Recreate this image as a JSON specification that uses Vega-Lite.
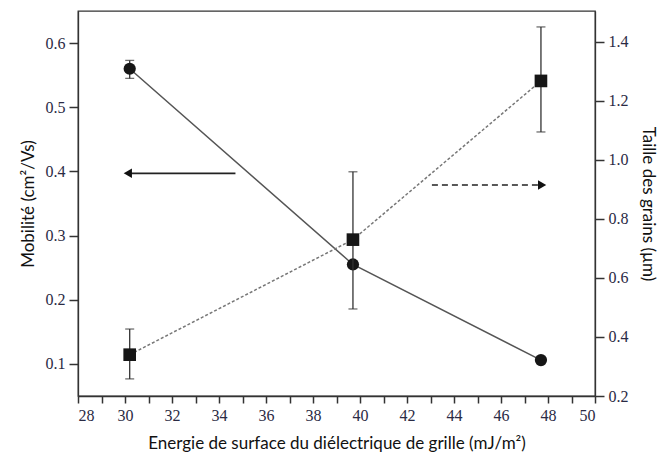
{
  "$schema": "https://vega.github.io/schema/vega-lite/v6.json",
  "description": "Mobilité et taille des grains en fonction de l'énergie de surface du diélectrique de grille.",
  "width": 517,
  "height": 385,
  "autosize": {"type": "none"},
  "padding": {"left": 78, "top": 11, "right": 67, "bottom": 62},
  "background": "white",
  "config": {
    "view": {"stroke": "#333", "strokeWidth": 1.3}
  },
  "datasets": {
    "mobilite": [
      {"energie": 30.2, "mob": 0.56, "lo": 0.545, "hi": 0.573},
      {"energie": 39.7, "mob": 0.255, "lo": null, "hi": null},
      {"energie": 47.7, "mob": 0.106, "lo": null, "hi": null}
    ],
    "taille": [
      {"energie": 30.2, "taille": 0.34, "lo": 0.258, "hi": 0.427},
      {"energie": 39.7, "taille": 0.73, "lo": 0.495, "hi": 0.96},
      {"energie": 47.7, "taille": 1.268, "lo": 1.095, "hi": 1.451}
    ],
    "fleche_gauche": [{"debut": 34.7, "fin": 30.1, "pointe": 30.12, "y": 0.397}],
    "fleche_droite": [{"debut": 43.06, "fin": 47.6, "pointe": 47.75, "y": 0.915}]
  },
  "encoding": {
    "x": {
      "field": "energie",
      "type": "quantitative",
      "scale": {"domain": [28, 50], "nice": false, "zero": false},
      "axis": {
        "title": "Energie de surface du diélectrique de grille (mJ/m²)",
        "values": [28, 29, 30, 31, 32, 33, 34, 35, 36, 37, 38, 39, 40, 41, 42, 43, 44, 45, 46, 47, 48, 49, 50],
        "labelExpr": "datum.value % 2 === 0 ? datum.label : ''",
        "tickSize": 7,
        "domainColor": "#333",
        "domainWidth": 1.3,
        "tickColor": "#333",
        "tickWidth": 1.5,
        "grid": false,
        "labelFont": "'Liberation Serif', serif",
        "labelFontSize": 16,
        "labelColor": "#2a2a44",
        "labelPadding": 4,
        "titleFont": "Lato",
        "titleFontSize": 17,
        "titleFontWeight": "normal",
        "titleColor": "#111",
        "titlePadding": 12,
        "encode": {
          "ticks": {"update": {"y2": {"signal": "datum.value % 2 !== 0 ? 4 : 7"}}}
        }
      }
    }
  },
  "layer": [
    {
      "layer": [
        {
          "data": {"name": "mobilite"},
          "mark": {"type": "line", "color": "#555", "strokeWidth": 1.5},
          "encoding": {
            "y": {
              "field": "mob",
              "type": "quantitative",
              "scale": {"domain": [0.05, 0.65], "nice": false, "zero": false},
              "axis": {
                "orient": "left",
                "title": "Mobilité (cm²/Vs)",
                "values": [0.1, 0.15, 0.2, 0.25, 0.3, 0.35, 0.4, 0.45, 0.5, 0.55, 0.6],
                "format": ".1f",
                "labelExpr": "abs(datum.value * 10 - round(datum.value * 10)) > 0.01 ? '' : datum.label",
                "tickSize": 9,
                "domainColor": "#333",
                "domainWidth": 1.3,
                "tickColor": "#333",
                "tickWidth": 1.5,
                "grid": false,
                "labelFont": "'Liberation Serif', serif",
                "labelFontSize": 16,
                "labelColor": "#2a2a44",
                "labelPadding": 4,
                "titleFont": "Lato",
                "titleFontSize": 17,
                "titleFontWeight": "normal",
                "titleColor": "#111",
                "titlePadding": 8,
                "encode": {
                  "ticks": {"update": {"x2": {"signal": "abs(datum.value * 10 - round(datum.value * 10)) > 0.01 ? -5 : -9"}}}
                }
              }
            }
          }
        },
        {
          "data": {"name": "mobilite"},
          "transform": [{"filter": "datum.lo != null"}],
          "mark": {"type": "rule", "color": "#333", "strokeWidth": 1.3},
          "encoding": {
            "y": {"field": "lo", "type": "quantitative", "title": "Mobilité (cm²/Vs)"},
            "y2": {"field": "hi"}
          }
        },
        {
          "data": {"name": "mobilite"},
          "transform": [{"filter": "datum.lo != null"}, {"fold": ["lo", "hi"], "as": ["borne", "val"]}],
          "mark": {"type": "tick", "orient": "horizontal", "color": "#333", "size": 9, "thickness": 1.3},
          "encoding": {
            "y": {"field": "val", "type": "quantitative", "title": "Mobilité (cm²/Vs)"}
          }
        },
        {
          "data": {"name": "mobilite"},
          "mark": {"type": "point", "shape": "circle", "filled": true, "color": "#161616", "size": 150, "opacity": 1},
          "encoding": {
            "y": {"field": "mob", "type": "quantitative", "title": "Mobilité (cm²/Vs)"}
          }
        },
        {
          "data": {"name": "fleche_gauche"},
          "mark": {"type": "rule", "color": "#222", "strokeWidth": 1.6},
          "encoding": {
            "x": {"field": "debut", "type": "quantitative"},
            "x2": {"field": "fin"},
            "y": {"field": "y", "type": "quantitative", "title": "Mobilité (cm²/Vs)"}
          }
        },
        {
          "data": {"name": "fleche_gauche"},
          "mark": {"type": "point", "shape": "triangle-left", "filled": true, "color": "#111", "size": 90, "opacity": 1},
          "encoding": {
            "x": {"field": "pointe", "type": "quantitative"},
            "y": {"field": "y", "type": "quantitative", "title": "Mobilité (cm²/Vs)"}
          }
        }
      ]
    },
    {
      "layer": [
        {
          "data": {"name": "taille"},
          "mark": {"type": "line", "color": "#777", "strokeWidth": 1.5, "strokeDash": [3, 2]},
          "encoding": {
            "y": {
              "field": "taille",
              "type": "quantitative",
              "scale": {"domain": [0.2, 1.505], "nice": false, "zero": false},
              "axis": {
                "orient": "right",
                "title": "Taille des grains (µm)",
                "values": [0.2, 0.3, 0.4, 0.5, 0.6, 0.7, 0.8, 0.9, 1.0, 1.1, 1.2, 1.3, 1.4],
                "format": ".1f",
                "labelExpr": "round(datum.value * 10) % 2 !== 0 ? '' : datum.label",
                "tickSize": 9,
                "domainColor": "#333",
                "domainWidth": 1.3,
                "tickColor": "#333",
                "tickWidth": 1.5,
                "grid": false,
                "labelFont": "'Liberation Serif', serif",
                "labelFontSize": 16,
                "labelColor": "#2a2a44",
                "labelPadding": 4,
                "titleFont": "Lato",
                "titleFontSize": 17,
                "titleFontWeight": "normal",
                "titleColor": "#111",
                "titlePadding": 10,
                "encode": {
                  "ticks": {"update": {"x2": {"signal": "round(datum.value * 10) % 2 !== 0 ? 5 : 9"}}}
                }
              }
            }
          }
        },
        {
          "data": {"name": "taille"},
          "mark": {"type": "rule", "color": "#333", "strokeWidth": 1.3},
          "encoding": {
            "y": {"field": "lo", "type": "quantitative", "title": "Taille des grains (µm)"},
            "y2": {"field": "hi"}
          }
        },
        {
          "data": {"name": "taille"},
          "transform": [{"fold": ["lo", "hi"], "as": ["borne", "val"]}],
          "mark": {"type": "tick", "orient": "horizontal", "color": "#333", "size": 9, "thickness": 1.3},
          "encoding": {
            "y": {"field": "val", "type": "quantitative", "title": "Taille des grains (µm)"}
          }
        },
        {
          "data": {"name": "taille"},
          "mark": {"type": "point", "shape": "square", "filled": true, "color": "#161616", "size": 160, "opacity": 1},
          "encoding": {
            "y": {"field": "taille", "type": "quantitative", "title": "Taille des grains (µm)"}
          }
        },
        {
          "data": {"name": "fleche_droite"},
          "mark": {"type": "rule", "color": "#222", "strokeWidth": 1.6, "strokeDash": [6, 4]},
          "encoding": {
            "x": {"field": "debut", "type": "quantitative"},
            "x2": {"field": "fin"},
            "y": {"field": "y", "type": "quantitative", "title": "Taille des grains (µm)"}
          }
        },
        {
          "data": {"name": "fleche_droite"},
          "mark": {"type": "point", "shape": "triangle-right", "filled": true, "color": "#111", "size": 90, "opacity": 1},
          "encoding": {
            "x": {"field": "pointe", "type": "quantitative"},
            "y": {"field": "y", "type": "quantitative", "title": "Taille des grains (µm)"}
          }
        }
      ]
    }
  ],
  "resolve": {"scale": {"y": "independent"}}
}
